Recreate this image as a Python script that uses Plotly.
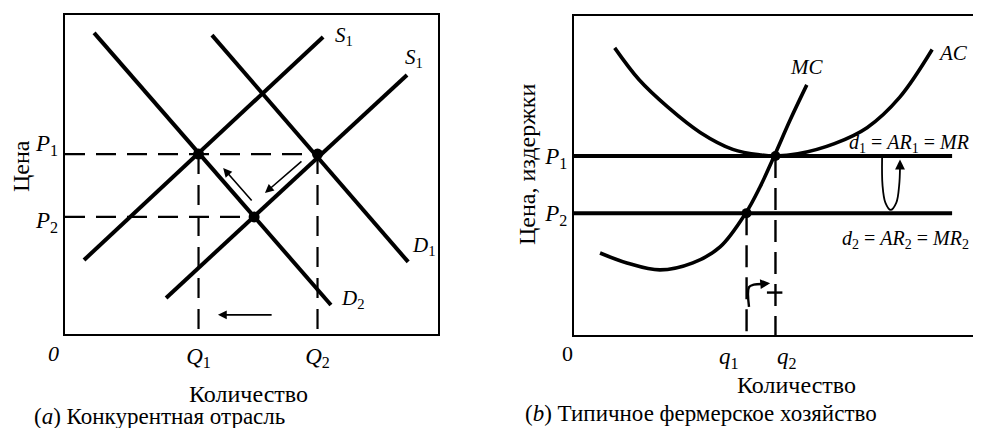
import plotly.graph_objects as go

# ---------------- Panel (a): competitive industry ----------------
demand_2_q = [0.78, 7.13]
demand_2_p = [9.44, 0.91]
demand_1_q = [3.94, 9.20]
demand_1_p = [9.37, 2.26]
supply_1_q = [0.51, 6.92]
supply_1_p = [2.32, 9.31]
supply_2_q = [2.71, 9.17]
supply_2_p = [1.13, 8.12]
Q1, Q2 = 3.58, 6.77
P1a, P2a = 5.64, 3.67
eq_a_q = [Q1, Q2, 5.07]
eq_a_p = [P1a, P1a, P2a]
a_tick_q = [Q1, Q2]
a_tick_q_text = ["<i>Q</i><sub>1</sub>", "<i>Q</i><sub>2</sub>"]
a_p_labels = ["<i>P</i><sub>1</sub>", "<i>P</i><sub>2</sub>"]
# arrows (tail -> head)
arrow_a1 = [(6.38, 5.45), (5.36, 4.42)]
arrow_a2 = [(5.04, 4.14), (4.24, 5.20)]
arrow_a3 = [(5.58, 0.60), (4.10, 0.60)]

# ---------------- Panel (b): typical farm ----------------
ac_q = [1.0, 1.6, 2.3, 3.1, 3.9, 4.6, 4.95, 5.5, 6.4, 7.2, 8.0, 8.8]
ac_c = [9.0, 8.0, 7.15, 6.35, 5.82, 5.64, 5.61, 5.68, 6.0, 6.5, 7.45, 8.95]
mc_q = [0.64, 1.30, 2.11, 2.92, 3.59, 4.22, 4.57, 4.92, 5.31, 5.72]
mc_c = [2.57, 2.26, 2.04, 2.26, 2.76, 3.82, 4.64, 5.61, 6.74, 7.84]
P1b, P2b = 5.61, 3.82
q1, q2 = 4.24, 4.95
price_line_q = [0.0, 9.29]
b_q_labels = ["<i>q</i><sub>1</sub>", "<i>q</i><sub>2</sub>"]
b_tick_p = [P1b, P2b]
b_tick_p_text = ["<i>P</i><sub>1</sub>", "<i>P</i><sub>2</sub>"]
u_arrow_q = [7.57, 7.58, 7.65, 7.78, 7.92, 7.99, 8.01]
u_arrow_c = [5.55, 4.70, 4.15, 3.92, 4.15, 4.70, 5.25]
u_arrow_head = (8.01, 5.50)
bracket_q = [4.30, 4.30, 4.42, 4.64]
bracket_c = [0.88, 1.50, 1.58, 1.60]
bracket_head = (4.82, 1.62)
tick_q2_q = [4.74, 5.12]
tick_q2_c = [1.33, 1.33]

SERIF = "Liberation Serif, Times New Roman, DejaVu Serif, serif"
BLACK = "black"

# the page body has an 8px margin: map window pixels to paper fractions
PAGE_OFF = 8
FIG_W = 981 - PAGE_OFF
FIG_H = 436 - 2 * PAGE_OFF


def px(xp):
    return (xp - PAGE_OFF) / FIG_W


def py(yp):
    return (PAGE_OFF + FIG_H - yp) / FIG_H


fig = go.Figure()


def line(xs, ys, xa, ya, width=4, dash=None, shape="linear"):
    fig.add_trace(go.Scatter(x=xs, y=ys, xaxis=xa, yaxis=ya, mode="lines",
                             line=dict(color=BLACK, width=width, dash=dash, shape=shape, smoothing=1.0),
                             hoverinfo="skip", showlegend=False))


# panel (a)
DASH = "20px,11px"
line([0, Q2], [P1a, P1a], "x", "y", width=2.2, dash=DASH)
line([0, eq_a_q[2]], [P2a, P2a], "x", "y", width=2.2, dash=DASH)
line([Q1, Q1], [P1a, 0], "x", "y", width=2.2, dash=DASH)
line([Q2, Q2], [P1a, 0], "x", "y", width=2.2, dash=DASH)
line(demand_2_q, demand_2_p, "x", "y")
line(demand_1_q, demand_1_p, "x", "y")
line(supply_1_q, supply_1_p, "x", "y")
line(supply_2_q, supply_2_p, "x", "y")
fig.add_trace(go.Scatter(x=eq_a_q, y=eq_a_p, xaxis="x", yaxis="y", mode="markers",
                         marker=dict(color=BLACK, size=11), hoverinfo="skip", showlegend=False))

# panel (b)
line(price_line_q, [P1b, P1b], "x2", "y2", width=4)
line(price_line_q, [P2b, P2b], "x2", "y2", width=4)
line([q1, q1], [P2b, 0], "x2", "y2", width=2.4, dash="22px,10px")
line([q2, q2], [P1b, 0], "x2", "y2", width=2.4, dash="22px,10px")
line(ac_q, ac_c, "x2", "y2", width=3.6, shape="spline")
line(mc_q, mc_c, "x2", "y2", width=3.6, shape="spline")
line(u_arrow_q, u_arrow_c, "x2", "y2", width=1.8, shape="spline")
line(bracket_q, bracket_c, "x2", "y2", width=2.4, shape="spline")
line(tick_q2_q, tick_q2_c, "x2", "y2", width=2.4)
fig.add_trace(go.Scatter(x=[q1, q2], y=[P2b, P1b], xaxis="x2", yaxis="y2", mode="markers",
                         marker=dict(color=BLACK, size=10), hoverinfo="skip", showlegend=False))

ann = []


def arrow(tail, head, xr, yr, width=1.6):
    ann.append(dict(x=head[0], y=head[1], ax=tail[0], ay=tail[1], xref=xr, yref=yr,
                    axref=xr, ayref=yr, showarrow=True, arrowhead=2, arrowsize=1.1,
                    arrowwidth=width, arrowcolor=BLACK, text="", standoff=0, startstandoff=0))


arrow(*arrow_a1, "x", "y")
arrow(*arrow_a2, "x", "y")
arrow(*arrow_a3, "x", "y")
arrow((u_arrow_q[-1], u_arrow_c[-1]), u_arrow_head, "x2", "y2", width=1.8)
arrow((bracket_q[-1], bracket_c[-1]), bracket_head, "x2", "y2", width=1.8)


def label(text, x, y, xr="x", yr="y", size=20, xanchor="left", yanchor="middle", angle=0,
          xshift=0, yshift=0):
    ann.append(dict(text=text, x=x, y=y, xref=xr, yref=yr, showarrow=False,
                    xanchor=xanchor, yanchor=yanchor, textangle=angle, xshift=xshift, yshift=yshift,
                    font=dict(family=SERIF, size=size, color=BLACK)))


# curve labels, panel (a)
label("<i>S</i><sub>1</sub>", 7.18, 9.35, size=21)
label("<i>S</i><sub>1</sub>", 9.05, 8.65, size=21)
label("<i>D</i><sub>1</sub>", 9.25, 2.75, size=21)
label("<i>D</i><sub>2</sub>", 7.35, 1.10, size=21)
# price labels, panel (a)
label(a_p_labels[0], px(46), P1a, "paper", "y", size=23, xanchor="center", yshift=9)
label(a_p_labels[1], px(46), P2a, "paper", "y", size=23, xanchor="center", yshift=-5)
# curve labels, panel (b)
label("<i>MC</i>", 5.72, 8.40, "x2", "y2", size=21, xanchor="center")
label("<i>AC</i>", 9.30, 8.85, "x2", "y2", size=21, xanchor="center")
label("<i>d</i><sub>1</sub> = <i>AR</i><sub>1</sub> = <i>MR</i>", px(971), 6.0, "paper", "y2", size=20, xanchor="right")
label("<i>d</i><sub>2</sub> = <i>AR</i><sub>2</sub> = <i>MR</i><sub>2</sub>", px(971), 3.0, "paper", "y2", size=20, xanchor="right")
# quantity labels, panel (b)
label(b_q_labels[0], q1, 0, "x2", "y2", size=23, xanchor="center", xshift=-18, yshift=-23)
label(b_q_labels[1], q2, 0, "x2", "y2", size=23, xanchor="center", xshift=12, yshift=-23)

# origins
label("<i>0</i>", px(53), py(353), "paper", "paper", size=22, xanchor="center")
label("0", px(567), py(353), "paper", "paper", size=22, xanchor="center")

# axis titles and captions
label("Количество", px(248), py(394), "paper", "paper", size=24, xanchor="center")
label("Количество", px(796), py(385), "paper", "paper", size=24, xanchor="center")
label("Цена", px(21), py(166), "paper", "paper", size=24, xanchor="center", angle=-90)
label("Цена, издержки", px(527), py(165), "paper", "paper", size=24, xanchor="center", angle=-90)
label("(<i>a</i>) Конкурентная отрасль", px(159), py(416), "paper", "paper", size=23, xanchor="center")
label("(<i>b</i>) Типичное фермерское хозяйство", px(701), py(413), "paper", "paper", size=23, xanchor="center")

axis_base = dict(showgrid=False, zeroline=False, showline=True, linecolor=BLACK, linewidth=2,
                 ticks="", fixedrange=True, tickfont=dict(family=SERIF, size=23, color=BLACK))

fig.update_layout(
    width=FIG_W, height=FIG_H,
    margin=dict(l=0, r=0, t=0, b=0),
    paper_bgcolor="white", plot_bgcolor="white",
    showlegend=False,
    xaxis=dict(axis_base, domain=[px(65), px(438)], range=[0, 10], anchor="y", mirror=True,
               tickmode="array", tickvals=a_tick_q, ticktext=a_tick_q_text, ticklabelstandoff=0),
    yaxis=dict(axis_base, domain=[py(334), py(15)], range=[0, 10], anchor="x", mirror=True,
               showticklabels=False),
    xaxis2=dict(axis_base, domain=[px(574), 1.0], range=[0, 10], anchor="y2", mirror=True,
                showticklabels=False),
    yaxis2=dict(axis_base, domain=[py(335), py(16)], range=[0, 10], anchor="x2", mirror=False,
                tickmode="array", tickvals=b_tick_p, ticktext=b_tick_p_text, ticklabelstandoff=0),
    annotations=ann,
)

fig.write_html("out.html")
